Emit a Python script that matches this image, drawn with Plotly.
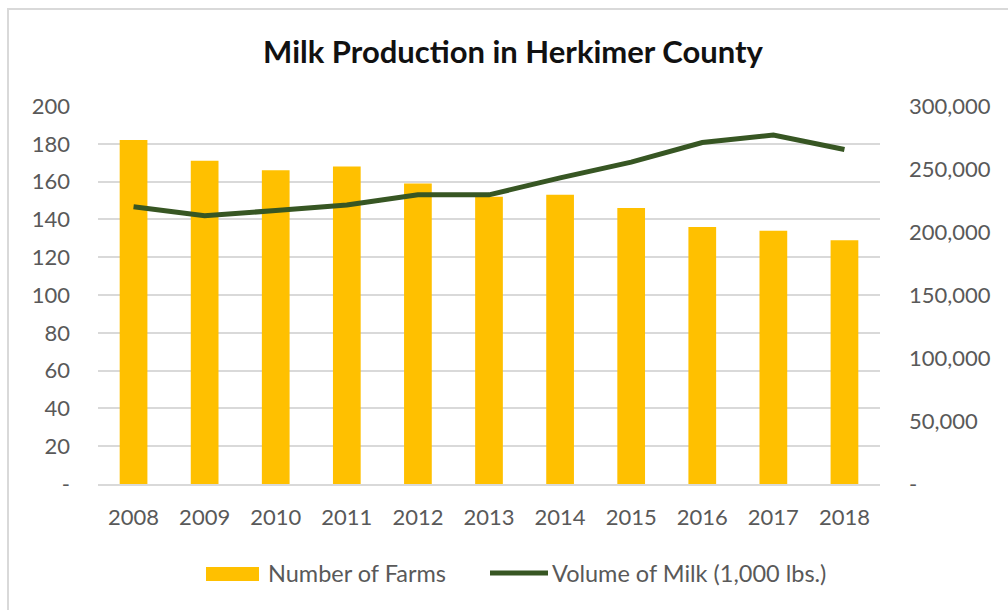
import plotly.graph_objects as go

# Herkimer County dairy figures
years = ["2008", "2009", "2010", "2011", "2012", "2013",
         "2014", "2015", "2016", "2017", "2018"]
farms = [182, 171, 166, 168, 159, 152, 153, 146, 136, 134, 129]
milk_volume = [220000, 213000, 217000, 221500, 229500, 229500,
               243000, 255500, 271000, 277000, 265500]

farm_ticks = [0, 20, 40, 60, 80, 100, 120, 140, 160, 180, 200]
farm_tick_text = ["-"] + [str(v) for v in farm_ticks[1:]]
milk_ticks = [0, 50000, 100000, 150000, 200000, 250000, 300000]
milk_tick_text = ["-"] + [f"{v:,}" for v in milk_ticks[1:]]

BAR_COLOR = "#FFC000"
LINE_COLOR = "#375623"
TEXT_COLOR = "#595959"
GRID_COLOR = "#D9D9D9"
FONT = "Lato"

W, H = 1008, 610
L, R, T, B = 98, 128, 106, 126
PW, PH = W - L - R, H - T - B


def px(x):
    return (x - L) / PW


def py(y):
    return (H - B - y) / PH


fig = go.Figure()
fig.add_trace(go.Bar(
    x=years, y=farms, name="Number of Farms",
    marker=dict(color=BAR_COLOR, line=dict(width=0)),
    yaxis="y", showlegend=False,
))
fig.add_trace(go.Scatter(
    x=years, y=milk_volume, name="Volume of Milk (1,000 lbs.)",
    mode="lines", line=dict(color=LINE_COLOR, width=5),
    yaxis="y2", showlegend=False,
))

tick_font = dict(family=FONT, size=22, color=TEXT_COLOR)
legend_font = dict(family=FONT, size=23.5, color=TEXT_COLOR)

fig.update_layout(
    width=W, height=H,
    margin=dict(l=L, r=R, t=T, b=B),
    paper_bgcolor="white", plot_bgcolor="white",
    bargap=0.61,
    title=dict(
        text="<b>Milk Production in Herkimer County</b>",
        font=dict(family=FONT, size=31, color="#111111"),
        x=513 / W, xanchor="center", y=1 - 52 / H, yanchor="middle",
    ),
    xaxis=dict(
        showgrid=False, showline=True, linecolor=GRID_COLOR, linewidth=1.5,
        ticks="", tickfont=tick_font, ticklabelstandoff=13,
    ),
    yaxis=dict(
        range=[0, 200], tickvals=farm_ticks, ticktext=farm_tick_text,
        showgrid=True, gridcolor=GRID_COLOR, gridwidth=1.5,
        zeroline=False, showline=False, ticks="",
        tickfont=tick_font, ticklabelstandoff=27,
    ),
    yaxis2=dict(
        range=[0, 300000], tickvals=milk_ticks, ticktext=milk_tick_text,
        overlaying="y", side="right", showgrid=False, zeroline=False,
        showline=False, ticks="", tickfont=tick_font, ticklabelstandoff=28,
    ),
    shapes=[
        # outer chart frame
        dict(type="rect", xref="paper", yref="paper",
             x0=px(8), x1=px(1030), y0=py(640), y1=py(9),
             line=dict(color=GRID_COLOR, width=2), layer="below"),
        # legend keys
        dict(type="rect", xref="paper", yref="paper",
             x0=px(206), x1=px(259), y0=py(581), y1=py(567),
             fillcolor=BAR_COLOR, line=dict(width=0)),
        dict(type="line", xref="paper", yref="paper",
             x0=px(490), x1=px(548), y0=py(573), y1=py(573),
             line=dict(color=LINE_COLOR, width=5)),
    ],
    annotations=[
        dict(text="Number of Farms", xref="paper", yref="paper",
             x=px(266), y=py(573), xanchor="left", yanchor="middle",
             showarrow=False, font=legend_font),
        dict(text="Volume of Milk (1,000 lbs.)", xref="paper", yref="paper",
             x=px(550), y=py(573), xanchor="left", yanchor="middle",
             showarrow=False, font=legend_font),
    ],
)

fig.write_html("out.html")
